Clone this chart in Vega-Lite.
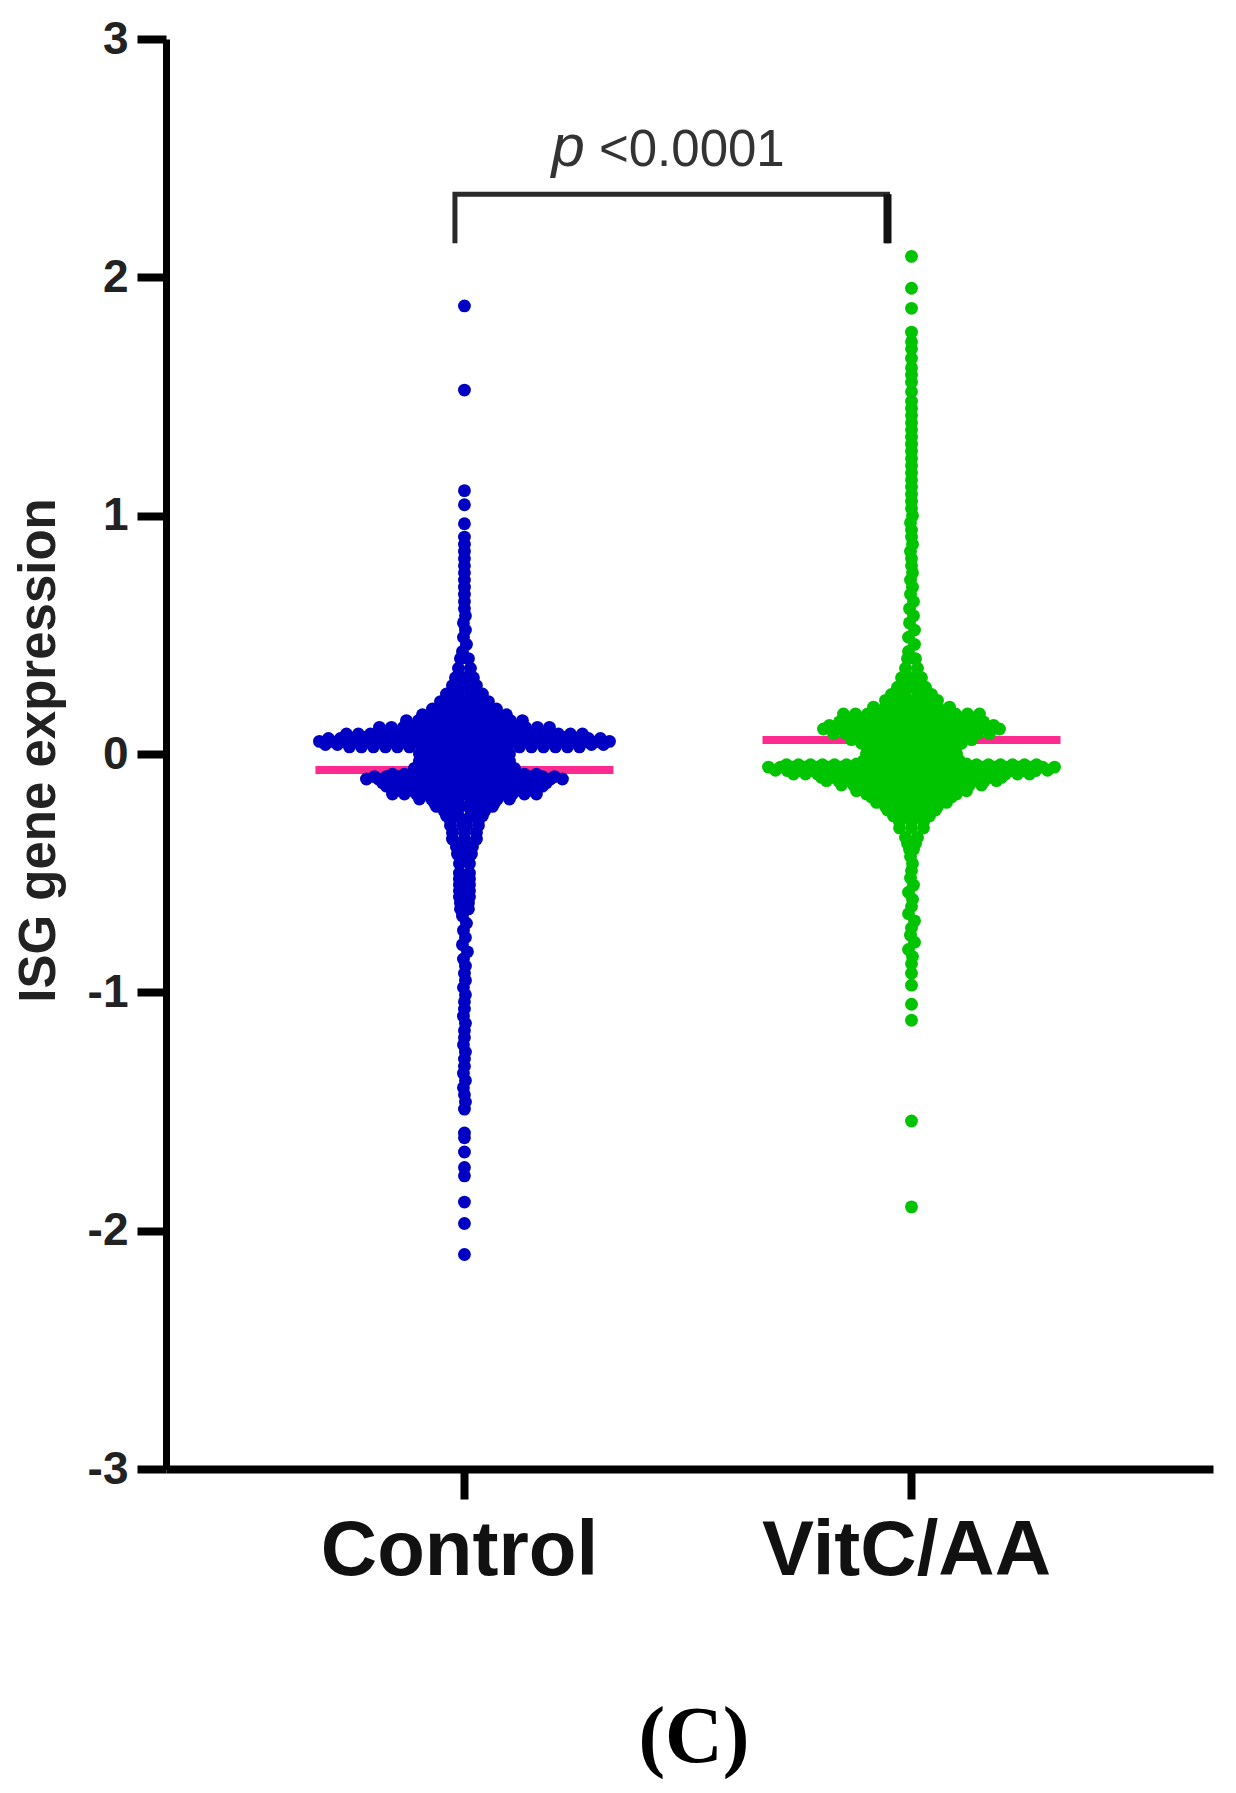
{"$schema":"https://vega.github.io/schema/vega-lite/v6.json","autosize":{"type":"none"},"width":1047,"height":1430,"padding":{"left":166,"top":39,"right":23,"bottom":324},"background":"white","config":{"view":{"stroke":null},"axisX":{"grid":false,"domainWidth":8,"domainColor":"black","tickColor":"black","tickWidth":8,"tickSize":30,"labelAngle":0,"labelFont":"Liberation Sans","labelFontWeight":"bold","labelFontSize":78,"labelColor":"#111","labelPadding":13,"labelOffset":-5,"labelLimit":500}},
"datasets":{
"medians":[{"g":"Control","v":-0.067},{"g":"VitC/AA","v":0.059}],
"bracket":[{"g":"Control","o":-9.5,"v":2.143,"k":0},{"g":"Control","o":-9.5,"v":2.349,"k":1},{"g":"VitC/AA","o":-24,"v":2.349,"k":2},{"g":"VitC/AA","o":-24,"v":2.143,"k":3}],
"Control":[
{"v":0.04,"o":-139},{"v":0.04,"o":-127},{"v":0.04,"o":127},{"v":0.04,"o":139},{"v":0.065,"o":-136},{"v":0.065,"o":-124},{"v":0.065,"o":-112},{"v":0.065,"o":112},{"v":0.065,"o":124},{"v":0.065,"o":136},
{"v":0.053,"o":-145},{"v":0.053,"o":-133},{"v":0.053,"o":-121},{"v":0.053,"o":-109},{"v":0.053,"o":-97},{"v":0.053,"o":-85},{"v":0.053,"o":-73},{"v":0.053,"o":-61},{"v":0.053,"o":-49},{"v":0.053,"o":-37},{"v":0.053,"o":-25},{"v":0.053,"o":-13},{"v":0.053,"o":0},{"v":0.053,"o":13},{"v":0.053,"o":25},{"v":0.053,"o":37},{"v":0.053,"o":49},{"v":0.053,"o":61},{"v":0.053,"o":73},{"v":0.053,"o":85},{"v":0.053,"o":97},{"v":0.053,"o":109},{"v":0.053,"o":121},{"v":0.053,"o":133},{"v":0.053,"o":145},
{"v":0.03,"o":-115},{"v":0.03,"o":-103},{"v":0.03,"o":-91},{"v":0.03,"o":-79},{"v":0.03,"o":-67},{"v":0.03,"o":-55},{"v":0.03,"o":-43},{"v":0.03,"o":-31},{"v":0.03,"o":-19},{"v":0.03,"o":-7},{"v":0.03,"o":7},{"v":0.03,"o":19},{"v":0.03,"o":31},{"v":0.03,"o":43},{"v":0.03,"o":55},{"v":0.03,"o":67},{"v":0.03,"o":79},{"v":0.03,"o":91},{"v":0.03,"o":103},{"v":0.03,"o":115},
{"v":0.07,"o":-100},{"v":0.07,"o":-88},{"v":0.07,"o":-76},{"v":0.07,"o":-64},{"v":0.07,"o":-52},{"v":0.07,"o":-40},{"v":0.07,"o":-28},{"v":0.07,"o":-16},{"v":0.07,"o":-4},{"v":0.07,"o":4},{"v":0.07,"o":16},{"v":0.07,"o":28},{"v":0.07,"o":40},{"v":0.07,"o":52},{"v":0.07,"o":64},{"v":0.07,"o":76},{"v":0.07,"o":88},{"v":0.07,"o":100},
{"v":0.084,"o":-118},{"v":0.084,"o":-106},{"v":0.084,"o":-94},{"v":0.084,"o":-82},{"v":0.084,"o":-70},{"v":0.084,"o":-58},{"v":0.084,"o":-46},{"v":0.084,"o":-34},{"v":0.084,"o":-22},{"v":0.084,"o":-10},{"v":0.084,"o":10},{"v":0.084,"o":22},{"v":0.084,"o":34},{"v":0.084,"o":46},{"v":0.084,"o":58},{"v":0.084,"o":70},{"v":0.084,"o":82},{"v":0.084,"o":94},{"v":0.084,"o":106},{"v":0.084,"o":118},
{"v":0.098,"o":-60},{"v":0.098,"o":-48},{"v":0.098,"o":-36},{"v":0.098,"o":-24},{"v":0.098,"o":-12},{"v":0.098,"o":0},{"v":0.098,"o":12},{"v":0.098,"o":24},{"v":0.098,"o":36},{"v":0.098,"o":48},{"v":0.098,"o":60},
{"v":0.112,"o":-85},{"v":0.112,"o":-73},{"v":0.112,"o":-61},{"v":0.112,"o":-49},{"v":0.112,"o":-37},{"v":0.112,"o":-25},{"v":0.112,"o":-13},{"v":0.112,"o":0},{"v":0.112,"o":13},{"v":0.112,"o":25},{"v":0.112,"o":37},{"v":0.112,"o":49},{"v":0.112,"o":61},{"v":0.112,"o":73},{"v":0.112,"o":85},
{"v":0.125,"o":-40},{"v":0.125,"o":-28},{"v":0.125,"o":-16},{"v":0.125,"o":-4},{"v":0.125,"o":4},{"v":0.125,"o":16},{"v":0.125,"o":28},{"v":0.125,"o":40},
{"v":0.14,"o":-58},{"v":0.14,"o":-46},{"v":0.14,"o":-34},{"v":0.14,"o":-22},{"v":0.14,"o":-10},{"v":0.14,"o":10},{"v":0.14,"o":22},{"v":0.14,"o":34},{"v":0.14,"o":46},{"v":0.14,"o":58},
{"v":0.155,"o":-24},{"v":0.155,"o":-12},{"v":0.155,"o":0},{"v":0.155,"o":12},{"v":0.155,"o":24},
{"v":0.165,"o":-42},{"v":0.165,"o":-30},{"v":0.165,"o":-18},{"v":0.165,"o":-6},{"v":0.165,"o":6},{"v":0.165,"o":18},{"v":0.165,"o":30},{"v":0.165,"o":42},
{"v":0.189,"o":-32},{"v":0.189,"o":-20},{"v":0.189,"o":-8},{"v":0.189,"o":8},{"v":0.189,"o":20},{"v":0.189,"o":32},
{"v":0.205,"o":-14},{"v":0.205,"o":-2},{"v":0.205,"o":2},{"v":0.205,"o":14},
{"v":0.22,"o":-24},{"v":0.22,"o":-12},{"v":0.22,"o":0},{"v":0.22,"o":12},{"v":0.22,"o":24},
{"v":0.252,"o":-18},{"v":0.252,"o":-6},{"v":0.252,"o":6},{"v":0.252,"o":18},
{"v":0.27,"o":-8},{"v":0.27,"o":8},
{"v":0.287,"o":-12},{"v":0.287,"o":0},{"v":0.287,"o":12},
{"v":0.32,"o":-9},{"v":0.32,"o":0},{"v":0.32,"o":9},
{"v":0.36,"o":-6},{"v":0.36,"o":6},{"v":0.4,"o":-4},{"v":0.4,"o":4},
{"v":0.015,"o":-39},{"v":0.015,"o":-27},{"v":0.015,"o":-15},{"v":0.015,"o":-3},{"v":0.015,"o":3},{"v":0.015,"o":15},{"v":0.015,"o":27},{"v":0.015,"o":39},
{"v":0.0,"o":-45},{"v":0.0,"o":-33},{"v":0.0,"o":-21},{"v":0.0,"o":-9},{"v":0.0,"o":9},{"v":0.0,"o":21},{"v":0.0,"o":33},{"v":0.0,"o":45},
{"v":-0.015,"o":-39},{"v":-0.015,"o":-27},{"v":-0.015,"o":-15},{"v":-0.015,"o":-3},{"v":-0.015,"o":3},{"v":-0.015,"o":15},{"v":-0.015,"o":27},{"v":-0.015,"o":39},
{"v":-0.03,"o":-45},{"v":-0.03,"o":-33},{"v":-0.03,"o":-21},{"v":-0.03,"o":-9},{"v":-0.03,"o":9},{"v":-0.03,"o":21},{"v":-0.03,"o":33},{"v":-0.03,"o":45},
{"v":-0.045,"o":-39},{"v":-0.045,"o":-27},{"v":-0.045,"o":-15},{"v":-0.045,"o":-3},{"v":-0.045,"o":3},{"v":-0.045,"o":15},{"v":-0.045,"o":27},{"v":-0.045,"o":39},
{"v":-0.06,"o":-50},{"v":-0.06,"o":-38},{"v":-0.06,"o":-26},{"v":-0.06,"o":-14},{"v":-0.06,"o":-2},{"v":-0.06,"o":2},{"v":-0.06,"o":14},{"v":-0.06,"o":26},{"v":-0.06,"o":38},{"v":-0.06,"o":50},
{"v":-0.085,"o":-72},{"v":-0.085,"o":-60},{"v":-0.085,"o":-48},{"v":-0.085,"o":-36},{"v":-0.085,"o":-24},{"v":-0.085,"o":-12},{"v":-0.085,"o":0},{"v":-0.085,"o":12},{"v":-0.085,"o":24},{"v":-0.085,"o":36},{"v":-0.085,"o":48},{"v":-0.085,"o":60},{"v":-0.085,"o":72},
{"v":-0.095,"o":-90},{"v":-0.095,"o":-78},{"v":-0.095,"o":-66},{"v":-0.095,"o":-54},{"v":-0.095,"o":-42},{"v":-0.095,"o":-30},{"v":-0.095,"o":-18},{"v":-0.095,"o":-6},{"v":-0.095,"o":6},{"v":-0.095,"o":18},{"v":-0.095,"o":30},{"v":-0.095,"o":42},{"v":-0.095,"o":54},{"v":-0.095,"o":66},{"v":-0.095,"o":78},{"v":-0.095,"o":90},
{"v":-0.105,"o":-98},{"v":-0.105,"o":-86},{"v":-0.105,"o":-74},{"v":-0.105,"o":-62},{"v":-0.105,"o":-50},{"v":-0.105,"o":-38},{"v":-0.105,"o":-26},{"v":-0.105,"o":-14},{"v":-0.105,"o":-2},{"v":-0.105,"o":2},{"v":-0.105,"o":14},{"v":-0.105,"o":26},{"v":-0.105,"o":38},{"v":-0.105,"o":50},{"v":-0.105,"o":62},{"v":-0.105,"o":74},{"v":-0.105,"o":86},{"v":-0.105,"o":98},
{"v":-0.12,"o":-82},{"v":-0.12,"o":-70},{"v":-0.12,"o":-58},{"v":-0.12,"o":-46},{"v":-0.12,"o":-34},{"v":-0.12,"o":-22},{"v":-0.12,"o":-10},{"v":-0.12,"o":10},{"v":-0.12,"o":22},{"v":-0.12,"o":34},{"v":-0.12,"o":46},{"v":-0.12,"o":58},{"v":-0.12,"o":70},{"v":-0.12,"o":82},
{"v":-0.135,"o":-78},{"v":-0.135,"o":-66},{"v":-0.135,"o":-54},{"v":-0.135,"o":-42},{"v":-0.135,"o":-30},{"v":-0.135,"o":-18},{"v":-0.135,"o":-6},{"v":-0.135,"o":6},{"v":-0.135,"o":18},{"v":-0.135,"o":30},{"v":-0.135,"o":42},{"v":-0.135,"o":54},{"v":-0.135,"o":66},{"v":-0.135,"o":78},
{"v":-0.152,"o":-65},{"v":-0.152,"o":-53},{"v":-0.152,"o":-41},{"v":-0.152,"o":-29},{"v":-0.152,"o":-17},{"v":-0.152,"o":-5},{"v":-0.152,"o":5},{"v":-0.152,"o":17},{"v":-0.152,"o":29},{"v":-0.152,"o":41},{"v":-0.152,"o":53},{"v":-0.152,"o":65},
{"v":-0.168,"o":-72},{"v":-0.168,"o":-60},{"v":-0.168,"o":-48},{"v":-0.168,"o":-36},{"v":-0.168,"o":-24},{"v":-0.168,"o":-12},{"v":-0.168,"o":0},{"v":-0.168,"o":12},{"v":-0.168,"o":24},{"v":-0.168,"o":36},{"v":-0.168,"o":48},{"v":-0.168,"o":60},{"v":-0.168,"o":72},
{"v":-0.189,"o":-45},{"v":-0.189,"o":-33},{"v":-0.189,"o":-21},{"v":-0.189,"o":-9},{"v":-0.189,"o":9},{"v":-0.189,"o":21},{"v":-0.189,"o":33},{"v":-0.189,"o":45},
{"v":-0.205,"o":-30},{"v":-0.205,"o":-18},{"v":-0.205,"o":-6},{"v":-0.205,"o":6},{"v":-0.205,"o":18},{"v":-0.205,"o":30},
{"v":-0.22,"o":-28},{"v":-0.22,"o":-16},{"v":-0.22,"o":-4},{"v":-0.22,"o":4},{"v":-0.22,"o":16},{"v":-0.22,"o":28},
{"v":-0.24,"o":-20},{"v":-0.24,"o":-8},{"v":-0.24,"o":8},{"v":-0.24,"o":20},
{"v":-0.259,"o":-18},{"v":-0.259,"o":-6},{"v":-0.259,"o":6},{"v":-0.259,"o":18},
{"v":-0.28,"o":-14},{"v":-0.28,"o":-2},{"v":-0.28,"o":2},{"v":-0.28,"o":14},
{"v":-0.3,"o":-14},{"v":-0.3,"o":-2},{"v":-0.3,"o":2},{"v":-0.3,"o":14},
{"v":-0.33,"o":-12},{"v":-0.33,"o":0},{"v":-0.33,"o":12},
{"v":-0.357,"o":-12},{"v":-0.357,"o":0},{"v":-0.357,"o":12},
{"v":-0.39,"o":-8},{"v":-0.39,"o":0},{"v":-0.39,"o":8},{"v":-0.42,"o":-7},{"v":-0.42,"o":0},{"v":-0.42,"o":7},{"v":-0.46,"o":-5},{"v":-0.46,"o":5},{"v":-0.5,"o":-5},{"v":-0.5,"o":5},{"v":-0.525,"o":-5},{"v":-0.525,"o":5},{"v":-0.55,"o":-5},{"v":-0.55,"o":5},{"v":-0.575,"o":-5},{"v":-0.575,"o":5},{"v":-0.6,"o":-5},{"v":-0.6,"o":5},{"v":-0.625,"o":-4},{"v":-0.625,"o":4},{"v":-0.65,"o":-4},{"v":-0.65,"o":4},
{"v":0.43,"o":-2},{"v":0.46,"o":2},{"v":0.49,"o":-1},{"v":0.52,"o":1},{"v":0.55,"o":-1},{"v":0.58,"o":1},{"v":0.61,"o":0},{"v":0.64,"o":0},{"v":0.67,"o":0},{"v":0.7,"o":0},{"v":0.73,"o":0},{"v":0.76,"o":0},{"v":0.79,"o":0},{"v":0.82,"o":0},{"v":0.85,"o":0},{"v":0.88,"o":0},{"v":0.91,"o":0},{"v":0.966,"o":0},{"v":1.046,"o":0},{"v":1.105,"o":0},{"v":1.527,"o":0},{"v":1.88,"o":0},
{"v":-0.68,"o":-2},{"v":-0.71,"o":2},{"v":-0.74,"o":-1},{"v":-0.77,"o":1},{"v":-0.8,"o":-2},{"v":-0.83,"o":3},{"v":-0.86,"o":-1},{"v":-0.89,"o":1},{"v":-0.92,"o":0},{"v":-0.95,"o":1},{"v":-0.98,"o":-1},{"v":-1.01,"o":1},{"v":-1.04,"o":0},{"v":-1.07,"o":0},{"v":-1.1,"o":-1},{"v":-1.13,"o":1},{"v":-1.16,"o":0},{"v":-1.19,"o":0},{"v":-1.22,"o":-1},{"v":-1.25,"o":1},{"v":-1.28,"o":0},{"v":-1.31,"o":0},{"v":-1.34,"o":-1},{"v":-1.37,"o":1},{"v":-1.4,"o":-1},{"v":-1.43,"o":0},{"v":-1.46,"o":1},{"v":-1.49,"o":0},{"v":-1.59,"o":0},{"v":-1.61,"o":0},{"v":-1.67,"o":0},{"v":-1.735,"o":0},{"v":-1.77,"o":0},{"v":-1.88,"o":0},{"v":-1.97,"o":0},{"v":-2.1,"o":0}
],
"VitC/AA":[
{"v":-0.068,"o":-136},{"v":-0.068,"o":136},{"v":-0.045,"o":-125},{"v":-0.045,"o":-113},{"v":-0.045,"o":-101},{"v":-0.045,"o":-89},{"v":-0.045,"o":-77},{"v":-0.045,"o":-65},{"v":-0.045,"o":65},{"v":-0.045,"o":77},{"v":-0.045,"o":89},{"v":-0.045,"o":101},{"v":-0.045,"o":113},{"v":-0.045,"o":125},
{"v":0.105,"o":-88},{"v":0.105,"o":-76},{"v":0.105,"o":-64},{"v":0.105,"o":-52},{"v":0.105,"o":-40},{"v":0.105,"o":-28},{"v":0.105,"o":-16},{"v":0.105,"o":-4},{"v":0.105,"o":4},{"v":0.105,"o":16},{"v":0.105,"o":28},{"v":0.105,"o":40},{"v":0.105,"o":52},{"v":0.105,"o":64},{"v":0.105,"o":76},{"v":0.105,"o":88},
{"v":0.085,"o":-78},{"v":0.085,"o":-66},{"v":0.085,"o":-54},{"v":0.085,"o":-42},{"v":0.085,"o":-30},{"v":0.085,"o":-18},{"v":0.085,"o":-6},{"v":0.085,"o":6},{"v":0.085,"o":18},{"v":0.085,"o":30},{"v":0.085,"o":42},{"v":0.085,"o":54},{"v":0.085,"o":66},{"v":0.085,"o":78},
{"v":0.12,"o":-82},{"v":0.12,"o":-66},{"v":0.12,"o":-54},{"v":0.12,"o":-42},{"v":0.12,"o":-30},{"v":0.12,"o":-18},{"v":0.12,"o":-6},{"v":0.12,"o":6},{"v":0.12,"o":18},{"v":0.12,"o":30},{"v":0.12,"o":42},{"v":0.12,"o":54},{"v":0.12,"o":66},{"v":0.12,"o":82},
{"v":0.135,"o":-72},{"v":0.135,"o":-60},{"v":0.135,"o":-48},{"v":0.135,"o":-36},{"v":0.135,"o":-24},{"v":0.135,"o":-12},{"v":0.135,"o":0},{"v":0.135,"o":12},{"v":0.135,"o":24},{"v":0.135,"o":36},{"v":0.135,"o":48},{"v":0.135,"o":60},{"v":0.135,"o":72},
{"v":0.15,"o":-62},{"v":0.15,"o":-50},{"v":0.15,"o":-38},{"v":0.15,"o":-26},{"v":0.15,"o":-14},{"v":0.15,"o":-2},{"v":0.15,"o":2},{"v":0.15,"o":14},{"v":0.15,"o":26},{"v":0.15,"o":38},{"v":0.15,"o":50},{"v":0.15,"o":62},
{"v":0.168,"o":-68},{"v":0.168,"o":-56},{"v":0.168,"o":-44},{"v":0.168,"o":-32},{"v":0.168,"o":-20},{"v":0.168,"o":-8},{"v":0.168,"o":8},{"v":0.168,"o":20},{"v":0.168,"o":32},{"v":0.168,"o":44},{"v":0.168,"o":56},{"v":0.168,"o":68},
{"v":0.182,"o":-30},{"v":0.182,"o":-18},{"v":0.182,"o":-6},{"v":0.182,"o":6},{"v":0.182,"o":18},{"v":0.182,"o":30},
{"v":0.197,"o":-38},{"v":0.197,"o":-26},{"v":0.197,"o":-14},{"v":0.197,"o":-2},{"v":0.197,"o":2},{"v":0.197,"o":14},{"v":0.197,"o":26},{"v":0.197,"o":38},
{"v":0.212,"o":-20},{"v":0.212,"o":-8},{"v":0.212,"o":8},{"v":0.212,"o":20},
{"v":0.225,"o":-26},{"v":0.225,"o":-14},{"v":0.225,"o":-2},{"v":0.225,"o":2},{"v":0.225,"o":14},{"v":0.225,"o":26},
{"v":0.25,"o":-20},{"v":0.25,"o":-8},{"v":0.25,"o":8},{"v":0.25,"o":20},
{"v":0.265,"o":-6},{"v":0.265,"o":6},
{"v":0.28,"o":-14},{"v":0.28,"o":-2},{"v":0.28,"o":2},{"v":0.28,"o":14},
{"v":0.3,"o":-6},{"v":0.3,"o":6},
{"v":0.32,"o":-10},{"v":0.32,"o":0},{"v":0.32,"o":10},{"v":0.36,"o":-6},{"v":0.36,"o":6},{"v":0.4,"o":-4},{"v":0.4,"o":4},
{"v":0.06,"o":-60},{"v":0.06,"o":-48},{"v":0.06,"o":-36},{"v":0.06,"o":-24},{"v":0.06,"o":-12},{"v":0.06,"o":0},{"v":0.06,"o":12},{"v":0.06,"o":24},{"v":0.06,"o":36},{"v":0.06,"o":48},{"v":0.06,"o":60},
{"v":0.045,"o":-50},{"v":0.045,"o":-38},{"v":0.045,"o":-26},{"v":0.045,"o":-14},{"v":0.045,"o":-2},{"v":0.045,"o":2},{"v":0.045,"o":14},{"v":0.045,"o":26},{"v":0.045,"o":38},{"v":0.045,"o":50},
{"v":0.03,"o":-45},{"v":0.03,"o":-33},{"v":0.03,"o":-21},{"v":0.03,"o":-9},{"v":0.03,"o":9},{"v":0.03,"o":21},{"v":0.03,"o":33},{"v":0.03,"o":45},
{"v":0.015,"o":-39},{"v":0.015,"o":-27},{"v":0.015,"o":-15},{"v":0.015,"o":-3},{"v":0.015,"o":3},{"v":0.015,"o":15},{"v":0.015,"o":27},{"v":0.015,"o":39},
{"v":0.0,"o":-45},{"v":0.0,"o":-33},{"v":0.0,"o":-21},{"v":0.0,"o":-9},{"v":0.0,"o":9},{"v":0.0,"o":21},{"v":0.0,"o":33},{"v":0.0,"o":45},
{"v":-0.015,"o":-39},{"v":-0.015,"o":-27},{"v":-0.015,"o":-15},{"v":-0.015,"o":-3},{"v":-0.015,"o":3},{"v":-0.015,"o":15},{"v":-0.015,"o":27},{"v":-0.015,"o":39},
{"v":-0.028,"o":-48},{"v":-0.028,"o":-36},{"v":-0.028,"o":-24},{"v":-0.028,"o":-12},{"v":-0.028,"o":0},{"v":-0.028,"o":12},{"v":-0.028,"o":24},{"v":-0.028,"o":36},{"v":-0.028,"o":48},
{"v":-0.042,"o":-55},{"v":-0.042,"o":-43},{"v":-0.042,"o":-31},{"v":-0.042,"o":-19},{"v":-0.042,"o":-7},{"v":-0.042,"o":7},{"v":-0.042,"o":19},{"v":-0.042,"o":31},{"v":-0.042,"o":43},{"v":-0.042,"o":55},
{"v":-0.055,"o":-143},{"v":-0.055,"o":-131},{"v":-0.055,"o":-119},{"v":-0.055,"o":-107},{"v":-0.055,"o":-95},{"v":-0.055,"o":-83},{"v":-0.055,"o":-71},{"v":-0.055,"o":-59},{"v":-0.055,"o":-47},{"v":-0.055,"o":-35},{"v":-0.055,"o":-23},{"v":-0.055,"o":-11},{"v":-0.055,"o":11},{"v":-0.055,"o":23},{"v":-0.055,"o":35},{"v":-0.055,"o":47},{"v":-0.055,"o":59},{"v":-0.055,"o":71},{"v":-0.055,"o":83},{"v":-0.055,"o":95},{"v":-0.055,"o":107},{"v":-0.055,"o":119},{"v":-0.055,"o":131},{"v":-0.055,"o":143},
{"v":-0.07,"o":-124},{"v":-0.07,"o":-112},{"v":-0.07,"o":-100},{"v":-0.07,"o":-88},{"v":-0.07,"o":-76},{"v":-0.07,"o":-64},{"v":-0.07,"o":-52},{"v":-0.07,"o":-40},{"v":-0.07,"o":-28},{"v":-0.07,"o":-16},{"v":-0.07,"o":-4},{"v":-0.07,"o":4},{"v":-0.07,"o":16},{"v":-0.07,"o":28},{"v":-0.07,"o":40},{"v":-0.07,"o":52},{"v":-0.07,"o":64},{"v":-0.07,"o":76},{"v":-0.07,"o":88},{"v":-0.07,"o":100},{"v":-0.07,"o":112},{"v":-0.07,"o":124},
{"v":-0.084,"o":-118},{"v":-0.084,"o":-106},{"v":-0.084,"o":-94},{"v":-0.084,"o":-82},{"v":-0.084,"o":-70},{"v":-0.084,"o":-58},{"v":-0.084,"o":-46},{"v":-0.084,"o":-34},{"v":-0.084,"o":-22},{"v":-0.084,"o":-10},{"v":-0.084,"o":10},{"v":-0.084,"o":22},{"v":-0.084,"o":34},{"v":-0.084,"o":46},{"v":-0.084,"o":58},{"v":-0.084,"o":70},{"v":-0.084,"o":82},{"v":-0.084,"o":94},{"v":-0.084,"o":106},{"v":-0.084,"o":118},
{"v":-0.098,"o":-90},{"v":-0.098,"o":-78},{"v":-0.098,"o":-66},{"v":-0.098,"o":-54},{"v":-0.098,"o":-42},{"v":-0.098,"o":-30},{"v":-0.098,"o":-18},{"v":-0.098,"o":-6},{"v":-0.098,"o":6},{"v":-0.098,"o":18},{"v":-0.098,"o":30},{"v":-0.098,"o":42},{"v":-0.098,"o":54},{"v":-0.098,"o":66},{"v":-0.098,"o":78},{"v":-0.098,"o":90},
{"v":-0.112,"o":-85},{"v":-0.112,"o":-73},{"v":-0.112,"o":-61},{"v":-0.112,"o":-49},{"v":-0.112,"o":-37},{"v":-0.112,"o":-25},{"v":-0.112,"o":-13},{"v":-0.112,"o":0},{"v":-0.112,"o":13},{"v":-0.112,"o":25},{"v":-0.112,"o":37},{"v":-0.112,"o":49},{"v":-0.112,"o":61},{"v":-0.112,"o":73},{"v":-0.112,"o":85},
{"v":-0.13,"o":-70},{"v":-0.13,"o":-58},{"v":-0.13,"o":-46},{"v":-0.13,"o":-34},{"v":-0.13,"o":-22},{"v":-0.13,"o":-10},{"v":-0.13,"o":10},{"v":-0.13,"o":22},{"v":-0.13,"o":34},{"v":-0.13,"o":46},{"v":-0.13,"o":58},{"v":-0.13,"o":70},
{"v":-0.142,"o":-50},{"v":-0.142,"o":-38},{"v":-0.142,"o":-26},{"v":-0.142,"o":-14},{"v":-0.142,"o":-2},{"v":-0.142,"o":2},{"v":-0.142,"o":14},{"v":-0.142,"o":26},{"v":-0.142,"o":38},{"v":-0.142,"o":50},
{"v":-0.154,"o":-55},{"v":-0.154,"o":-43},{"v":-0.154,"o":-31},{"v":-0.154,"o":-19},{"v":-0.154,"o":-7},{"v":-0.154,"o":7},{"v":-0.154,"o":19},{"v":-0.154,"o":31},{"v":-0.154,"o":43},{"v":-0.154,"o":55},
{"v":-0.168,"o":-45},{"v":-0.168,"o":-33},{"v":-0.168,"o":-21},{"v":-0.168,"o":-9},{"v":-0.168,"o":9},{"v":-0.168,"o":21},{"v":-0.168,"o":33},{"v":-0.168,"o":45},
{"v":-0.18,"o":-40},{"v":-0.18,"o":-28},{"v":-0.18,"o":-16},{"v":-0.18,"o":-4},{"v":-0.18,"o":4},{"v":-0.18,"o":16},{"v":-0.18,"o":28},{"v":-0.18,"o":40},
{"v":-0.203,"o":-35},{"v":-0.203,"o":-23},{"v":-0.203,"o":-11},{"v":-0.203,"o":0},{"v":-0.203,"o":11},{"v":-0.203,"o":23},{"v":-0.203,"o":35},
{"v":-0.22,"o":-26},{"v":-0.22,"o":-14},{"v":-0.22,"o":-2},{"v":-0.22,"o":2},{"v":-0.22,"o":14},{"v":-0.22,"o":26},
{"v":-0.235,"o":-24},{"v":-0.235,"o":-12},{"v":-0.235,"o":0},{"v":-0.235,"o":12},{"v":-0.235,"o":24},
{"v":-0.26,"o":-18},{"v":-0.26,"o":-6},{"v":-0.26,"o":6},{"v":-0.26,"o":18},
{"v":-0.285,"o":-12},{"v":-0.285,"o":0},{"v":-0.285,"o":12},
{"v":-0.31,"o":-12},{"v":-0.31,"o":0},{"v":-0.31,"o":12},{"v":-0.35,"o":-6},{"v":-0.35,"o":6},{"v":-0.375,"o":-4},{"v":-0.375,"o":4},{"v":-0.4,"o":-2},{"v":-0.4,"o":2},
{"v":-0.43,"o":-1},{"v":-0.46,"o":1},{"v":-0.49,"o":0},{"v":-0.52,"o":-1},{"v":-0.55,"o":2},{"v":-0.58,"o":-3},{"v":-0.61,"o":1},{"v":-0.64,"o":0},{"v":-0.67,"o":-3},{"v":-0.7,"o":3},{"v":-0.73,"o":0},{"v":-0.76,"o":-1},{"v":-0.79,"o":3},{"v":-0.82,"o":-3},{"v":-0.85,"o":1},{"v":-0.88,"o":0},{"v":-0.92,"o":0},{"v":-0.97,"o":0},{"v":-1.05,"o":0},{"v":-1.117,"o":0},{"v":-1.54,"o":0},{"v":-1.9,"o":0},
{"v":0.43,"o":-3},{"v":0.46,"o":3},{"v":0.49,"o":-3},{"v":0.52,"o":3},{"v":0.55,"o":-2},{"v":0.58,"o":2},{"v":0.61,"o":-2},{"v":0.64,"o":2},{"v":0.67,"o":-1},{"v":0.7,"o":1},{"v":0.73,"o":-1},{"v":0.76,"o":1},{"v":0.79,"o":0},{"v":0.82,"o":0},{"v":0.85,"o":-1},{"v":0.88,"o":1},{"v":0.91,"o":0},{"v":0.94,"o":0},{"v":0.97,"o":-1},{"v":1.0,"o":1},{"v":1.03,"o":0},{"v":1.06,"o":0},{"v":1.09,"o":0},{"v":1.12,"o":0},{"v":1.15,"o":0},{"v":1.18,"o":0},{"v":1.21,"o":0},{"v":1.24,"o":0},{"v":1.27,"o":0},{"v":1.3,"o":0},{"v":1.33,"o":0},{"v":1.36,"o":0},{"v":1.39,"o":0},{"v":1.42,"o":0},{"v":1.45,"o":0},{"v":1.48,"o":0},{"v":1.52,"o":0},{"v":1.56,"o":0},{"v":1.59,"o":0},{"v":1.62,"o":0},{"v":1.66,"o":0},{"v":1.7,"o":0},{"v":1.73,"o":0},{"v":1.77,"o":0},{"v":1.87,"o":0},{"v":1.954,"o":0},{"v":2.088,"o":0}
]},
"encoding":{
"x":{"field":"g","type":"nominal","title":null,"scale":{"domain":["Control","VitC/AA"],"paddingInner":0,"paddingOuter":0.171,"align":0.49}},
"y":{"field":"v","type":"quantitative","scale":{"domain":[-3,3],"nice":false,"zero":false},"axis":{"values":[-3,-2,-1,0,1,2,3],"labelExpr":"''+datum.value","grid":false,"title":"ISG gene expression","titleFont":"Liberation Sans","titleFontWeight":"bold","titleFontSize":51,"titleColor":"#222","titleX":-112,"titleY":711,"titleAngle":-90,"titleAlign":"center","titleBaseline":"alphabetic","domainWidth":7,"domainColor":"black","tickColor":"black","tickWidth":8,"tickSize":29,"labelFont":"Liberation Sans","labelFontWeight":"bold","labelFontSize":46,"labelColor":"#222","labelPadding":9}},
"xOffset":{"field":"o","type":"quantitative","scale":{"domain":[-223.5,223.5],"nice":false,"zero":false}}
},
"layer":[
{"mark":{"type":"rule","color":"#555","strokeWidth":6,"strokeDash":[6,13.3],"strokeDashOffset":4.3},"encoding":{"x":null,"xOffset":null,"y":{"datum":0}}},
{"data":{"name":"medians"},"mark":{"type":"tick","orient":"horizontal","size":298,"thickness":8,"color":"#ff2a90","opacity":1},"encoding":{"xOffset":null}},
{"data":{"name":"Control"},"mark":{"type":"circle","size":165,"color":"#0000c4","opacity":1},"encoding":{"x":{"datum":"Control","type":"nominal","title":null}}},
{"data":{"name":"VitC/AA"},"mark":{"type":"circle","size":165,"color":"#00c400","opacity":1},"encoding":{"x":{"datum":"VitC/AA","type":"nominal","title":null}}},
{"data":{"name":"bracket"},"mark":{"type":"line","color":"#2a2a2a","strokeWidth":5,"strokeJoin":"miter","strokeCap":"butt"},"encoding":{"order":{"field":"k","type":"quantitative"}}},
{"data":{"values":[{"g":"VitC/AA","o":-24,"v":2.143},{"g":"VitC/AA","o":-24,"v":2.349}]},"mark":{"type":"line","color":"#111","strokeWidth":8,"strokeCap":"butt"}},
{"data":{"values":[{"g":"Control","o":87,"v":2.466,"t":"p"}]},"mark":{"type":"text","font":"Liberation Sans","fontStyle":"italic","fontSize":60,"align":"left","baseline":"alphabetic","color":"#333"},"encoding":{"text":{"field":"t"}}},
{"data":{"values":[{"g":"Control","o":134.5,"v":2.466,"t":"<0.0001"}]},"mark":{"type":"text","font":"Liberation Sans","fontSize":51,"align":"left","baseline":"alphabetic","color":"#333"},"encoding":{"text":{"field":"t"}}},
{"data":{"values":[{"g":"Control","o":229.5,"v":-4.23,"t":"(C)"}]},"mark":{"type":"text","font":"Liberation Serif","fontWeight":"bold","fontSize":80,"align":"center","baseline":"alphabetic","color":"black"},"encoding":{"text":{"field":"t"}}}
]}
